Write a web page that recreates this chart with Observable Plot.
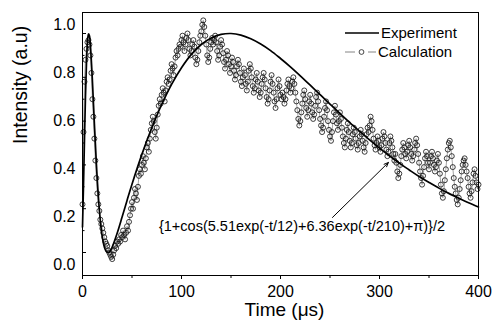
<!DOCTYPE html>
<html><head><meta charset="utf-8">
<script src="https://cdn.jsdelivr.net/npm/d3@7"></script>
<script src="https://cdn.jsdelivr.net/npm/@observablehq/plot@0.6"></script>
<style>
body{margin:0;background:#fff;font-family:"Liberation Sans",Arial,sans-serif;}
#wrap{position:relative;width:494px;height:324px;}
#legend{position:absolute;left:345px;top:22px;}
</style></head><body><div id="wrap"></div>
<script>
// Solid curve
const curveT = [0,1,2,3,4,5,6,7,8,10,12,14,16,18,20,22,24,26,28,30,35,40,45,50,60,70,80,90,100,110,120,130,140,150,160,170,180,190,200,210,220,230,240,250,260,270,280,290,300,310,320,330,340,350,360,370,380,390,400];
const curveV = [0.116,0.304,0.516,0.711,0.862,0.957,0.998,0.990,0.945,0.785,0.589,0.407,0.257,0.146,0.071,0.026,0.005,0.000,0.008,0.025,0.088,0.162,0.238,0.312,0.448,0.569,0.676,0.768,0.844,0.905,0.950,0.980,0.996,1.000,0.993,0.976,0.952,0.922,0.886,0.848,0.807,0.764,0.721,0.678,0.635,0.593,0.553,0.514,0.477,0.442,0.408,0.377,0.347,0.320,0.294,0.270,0.248,0.227,0.208];

// Circles, one per microsecond from t = 0
const circleV = [
0.22,0.55,0.78,0.88,0.93,0.96,0.97,0.95,0.90,0.82,
0.70,0.62,0.52,0.42,0.34,0.27,0.22,0.19,0.15,0.13,
0.11,0.09,0.07,0.05,0.04,0.03,0.01,0.00,-0.01,-0.02,
-0.03,-0.01,0.01,0.03,0.02,0.05,0.04,0.06,0.05,0.08,
0.07,0.10,0.08,0.06,0.09,0.12,0.10,0.14,0.17,0.20,
0.23,0.20,0.25,0.29,0.27,0.24,0.30,0.35,0.38,0.36,
0.40,0.44,0.41,0.38,0.43,0.48,0.50,0.46,0.52,0.56,
0.59,0.62,0.60,0.55,0.52,0.57,0.63,0.67,0.70,0.68,
0.72,0.75,0.73,0.69,0.74,0.78,0.80,0.77,0.79,0.83,
0.86,0.84,0.81,0.85,0.89,0.92,0.90,0.93,0.95,0.94,
0.97,0.99,0.96,0.92,0.95,0.98,1.00,0.97,0.93,0.90,
0.92,0.95,0.97,0.94,0.89,0.86,0.88,0.92,0.96,0.99,
1.01,1.04,1.06,1.03,0.99,0.95,0.90,0.87,0.89,0.93,
0.96,0.98,0.95,0.97,0.99,0.96,0.92,0.88,0.90,0.94,
0.97,0.95,0.91,0.87,0.84,0.88,0.92,0.90,0.86,0.82,
0.85,0.89,0.87,0.83,0.79,0.81,0.85,0.88,0.86,0.82,
0.78,0.76,0.80,0.84,0.81,0.77,0.74,0.78,0.83,0.86,
0.84,0.80,0.76,0.73,0.75,0.79,0.82,0.78,0.74,0.71,
0.73,0.77,0.80,0.82,0.79,0.75,0.71,0.68,0.70,0.74,
0.78,0.81,0.77,0.73,0.69,0.66,0.70,0.75,0.79,0.76,
0.72,0.70,0.73,0.71,0.68,0.70,0.74,0.77,0.79,0.76,
0.73,0.75,0.78,0.80,0.77,0.73,0.69,0.65,0.61,0.58,
0.60,0.64,0.68,0.72,0.74,0.70,0.66,0.62,0.65,0.69,
0.72,0.68,0.64,0.61,0.63,0.67,0.71,0.73,0.69,0.65,
0.61,0.58,0.55,0.57,0.62,0.66,0.69,0.65,0.60,0.56,
0.53,0.51,0.55,0.60,0.64,0.67,0.63,0.59,0.56,0.60,
0.64,0.61,0.57,0.53,0.50,0.48,0.52,0.56,0.59,0.55,
0.51,0.48,0.50,0.54,0.57,0.55,0.52,0.49,0.47,0.50,
0.53,0.56,0.54,0.51,0.48,0.46,0.50,0.54,0.57,0.55,
0.58,0.62,0.60,0.56,0.52,0.49,0.47,0.50,0.53,0.51,
0.48,0.46,0.49,0.52,0.55,0.53,0.50,0.47,0.44,0.46,
0.50,0.53,0.51,0.48,0.45,0.42,0.45,0.41,0.37,0.34,
0.36,0.40,0.44,0.47,0.50,0.48,0.45,0.43,0.46,0.49,
0.51,0.48,0.45,0.42,0.44,0.47,0.50,0.52,0.49,0.45,
0.41,0.37,0.34,0.31,0.35,0.39,0.43,0.46,0.44,0.41,
0.38,0.41,0.44,0.46,0.43,0.40,0.37,0.39,0.42,0.45,
0.41,0.36,0.31,0.27,0.25,0.28,0.33,0.38,0.43,0.47,
0.50,0.51,0.48,0.44,0.39,0.34,0.30,0.27,0.24,0.22,
0.25,0.29,0.33,0.37,0.40,0.42,0.43,0.40,0.37,0.34,
0.30,0.27,0.25,0.28,0.32,0.36,0.38,0.35,0.32,0.29,
0.31];

const xMajor = [0,100,200,300,400];
const xMinor = [50,150,250,350];
const yMajor = [0,0.2,0.4,0.6,0.8,1.0];
const yMinor = [0.1,0.3,0.5,0.7,0.9];
const legendLabels = ["Experiment","Calculation"];
const formulaLabel = "{1+cos(5.51exp(-t/12)+6.36exp(-t/210)+\u03c0)}/2";

const curve = curveT.map((t,i)=>({t, v: curveV[i]}));
const circles = circleV.map((v,i)=>({t: i, v}));

// In the source the tick labels are spread a little wider than the ticks themselves
const labelPos = d => d * 1.096 - 0.055;

const font = '"Liberation Sans", Arial, sans-serif';
const plot = Plot.plot({
  width: 494, height: 324,
  marginLeft: 82, marginRight: 16, marginTop: 12, marginBottom: 49,
  style: {fontFamily: font, background: "white", color: "black", overflow: "visible"},
  x: {domain: [0, 400]},
  y: {domain: [-0.105, 1.096]},
  marks: [
    Plot.line(circles, {x: "t", y: "v", stroke: "#666", strokeWidth: 0.6}),
    Plot.dot(circles, {x: "t", y: "v", r: 2.5, stroke: "#1a1a1a", strokeWidth: 0.85, fill: "none"}),
    Plot.line(curve, {x: "t", y: "v", stroke: "black", strokeWidth: 1.7, curve: "catmull-rom"}),
    Plot.frame({stroke: "black", strokeWidth: 1}),
    Plot.axisX({ticks: xMajor, tickSize: 4, tickPadding: 6, fontSize: 16, label: null, tickFormat: d => String(d)}),
    Plot.axisX({ticks: xMinor, tickSize: 3, text: null, label: null}),
    Plot.axisY({ticks: yMajor, tickSize: -4, text: null, label: null}),
    Plot.axisY({ticks: yMinor, tickSize: -2.5, text: null, label: null}),
    Plot.text(yMajor, {frameAnchor: "left", y: labelPos, text: d => d.toFixed(1), textAnchor: "end", dx: -7, fontSize: 16}),
    Plot.text(["Time (\u03bcs)"], {frameAnchor: "bottom", text: d => d, dy: 40, dx: 4, fontSize: 19}),
    Plot.text(["Intensity (a.u)"], {frameAnchor: "left", text: d => d, rotate: -90, dx: -62, fontSize: 19.5}),
    Plot.arrow([formulaLabel], {x1: 252.5, y1: 0.16, x2: 309, y2: 0.411, stroke: "black", strokeWidth: 1, headLength: 7, headAngle: 45}),
    Plot.text([formulaLabel], {x: 221.7, y: 0.119, text: d => d, fontSize: 14.5})
  ]
});
const wrap = document.getElementById("wrap");
wrap.appendChild(plot);

// Legend overlay
const ns = "http://www.w3.org/2000/svg";
const lg = document.createElementNS(ns, "svg");
lg.setAttribute("id", "legend");
lg.setAttribute("width", "130");
lg.setAttribute("height", "42");
lg.style.position = "absolute"; lg.style.left = "345px"; lg.style.top = "22px";
lg.innerHTML = `
<line x1="0" x2="34" y1="11" y2="11" stroke="black" stroke-width="1.6"/>
<text x="36" y="11" dy="0.35em" font-size="15" font-family='${font}'>${legendLabels[0]}</text>
<line x1="0" x2="10" y1="30" y2="30" stroke="#666" stroke-width="0.8"/>
<circle cx="16.5" cy="30" r="2.4" fill="none" stroke="#1a1a1a" stroke-width="0.8"/>
<line x1="23" x2="31" y1="30" y2="30" stroke="#666" stroke-width="0.8"/>
<text x="33" y="30" dy="0.35em" font-size="15" font-family='${font}'>${legendLabels[1]}</text>`;
wrap.appendChild(lg);
</script></body></html>
